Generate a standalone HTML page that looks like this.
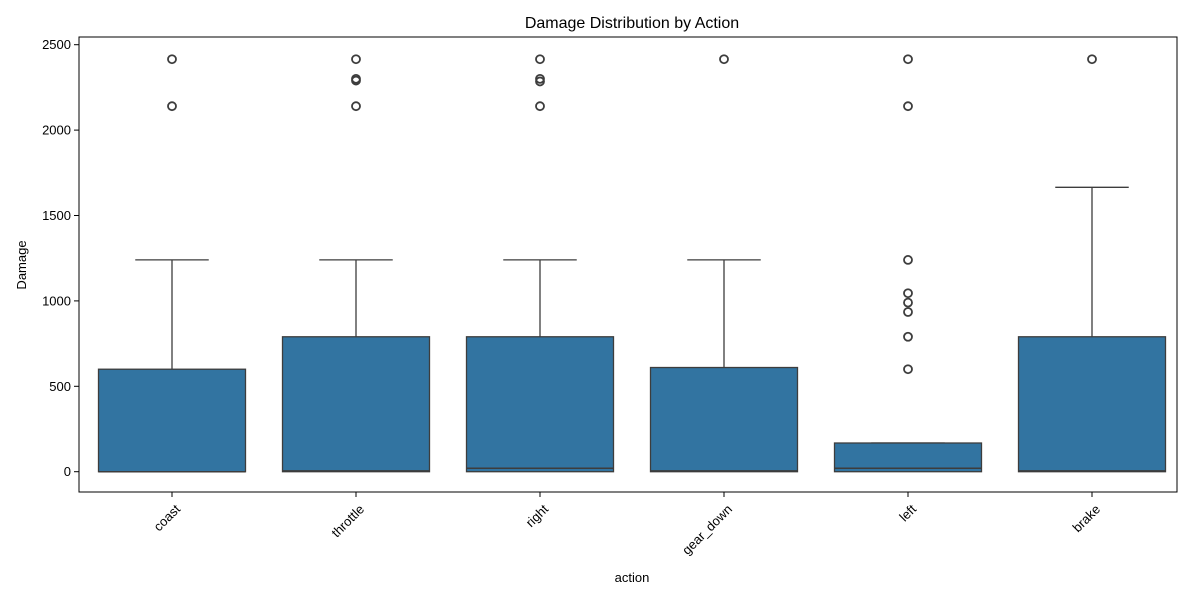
<!DOCTYPE html>
<html><head><meta charset="utf-8"><style>
body{margin:0;background:#fff;font-family:"Liberation Sans","DejaVu Sans",sans-serif}
</style></head><body>
<svg id="chart" width="1200" height="600" xmlns="http://www.w3.org/2000/svg">
<rect width="1200" height="600" fill="#fff"/>
<text x="632" y="28" font-size="16" text-anchor="middle" fill="#000">Damage Distribution by Action</text>
<g id="plot"></g>
<text x="632" y="582" font-size="13" text-anchor="middle">action</text>
<text transform="translate(26,265) rotate(-90)" font-size="13" text-anchor="middle">Damage</text>
</svg>
<script>
const categories=["coast","throttle","right","gear_down","left","brake"];
const q1=[0,0,0,0,0,0];
const medians=[0,5,20,5,20,5];
const q3=[600,790,790,610,168,790];
const whiskLo=[0,0,0,0,0,0];
const whiskHi=[1240,1240,1240,1240,168,1665];
const outliers=[[2415,2140],[2415,2300,2290,2140],[2415,2300,2285,2140],[2415],[2415,2140,1240,1045,990,935,790,600],[2415]];
const yTicks=[0,500,1000,1500,2000,2500];
const L=79,R=1177,T=37,B=492;
const y=v=>471.7-v*0.1708;
const x=i=>172+184*i;
const bw=147;
const g=document.getElementById('plot');
const NS="http://www.w3.org/2000/svg";
function mk(t,a){const e=document.createElementNS(NS,t);for(const k in a)e.setAttribute(k,a[k]);g.appendChild(e);return e;}
yTicks.forEach(v=>{
 const t=mk('line',{x1:L-5,x2:L,y1:y(v),y2:y(v),stroke:'#000','stroke-width':1});
 
 
 const l=mk('text',{x:L-8,y:y(v)+4.5,'font-size':13,'text-anchor':'end'});l.textContent=v;
 
 
});
categories.forEach((c,i)=>{
 const cx=x(i);
 const w=mk('line',{x1:cx,x2:cx,y1:y(q3[i]),y2:y(whiskHi[i]),stroke:'#3d3d3d','stroke-width':1.3});
 
 
 const cap=mk('line',{x1:cx-bw/4,x2:cx+bw/4,y1:y(whiskHi[i]),y2:y(whiskHi[i]),stroke:'#3d3d3d','stroke-width':1.3});
 
 
 const b=mk('rect',{x:cx-bw/2,y:y(q3[i]),width:bw,height:Math.max(1,y(q1[i])-y(q3[i])),fill:'#3274a1',stroke:'#3d3d3d','stroke-width':1.3});
 
 
 const m=mk('line',{x1:cx-bw/2,x2:cx+bw/2,y1:y(medians[i]),y2:y(medians[i]),stroke:'#3d3d3d','stroke-width':1.5});
 
 
 outliers[i].forEach(v=>{
  const o=mk('circle',{cx:cx,cy:y(v),r:4,fill:'none',stroke:'#3d3d3d','stroke-width':1.8});
  
  
 });
 const t=mk('line',{x1:cx,x2:cx,y1:B,y2:B+5,stroke:'#000'});
 
 
 const l=mk('text',{x:0,y:0,'font-size':13,'text-anchor':'end',transform:`translate(${cx+9},${B+18}) rotate(-45)`});l.textContent=c;
 
 
});
const fr=mk('rect',{x:L,y:T,width:R-L,height:B-T,fill:'none',stroke:'#000','stroke-width':1});


</script>
</body></html>
